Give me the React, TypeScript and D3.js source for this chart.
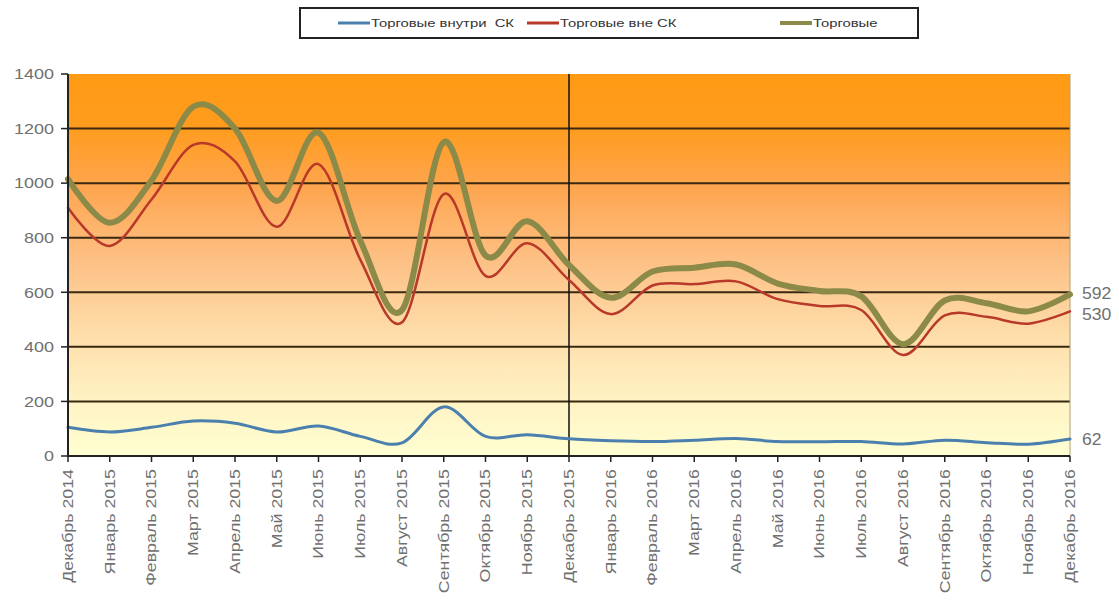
import React from "react";
import * as d3 from "d3";

const months = [
  "Декабрь 2014", "Январь 2015", "Февраль 2015", "Март 2015", "Апрель 2015", "Май 2015",
  "Июнь 2015", "Июль 2015", "Август 2015", "Сентябрь 2015", "Октябрь 2015", "Ноябрь 2015",
  "Декабрь 2015", "Январь 2016", "Февраль 2016", "Март 2016", "Апрель 2016", "Май 2016",
  "Июнь 2016", "Июль 2016", "Август 2016", "Сентябрь 2016", "Октябрь 2016", "Ноябрь 2016",
  "Декабрь 2016",
];

const inside = [105, 88, 105, 128, 120, 88, 110, 72, 48, 180, 72, 78, 63, 56, 53, 58, 64, 53, 52, 53, 44, 58, 49, 43, 62];
const outside = [910, 770, 940, 1140, 1080, 840, 1070, 720, 490, 960, 660, 780, 645, 520, 625, 630, 640, 575, 550, 535, 370, 515, 510, 485, 530];
const total = [1015, 855, 1010, 1280, 1200, 935, 1185, 790, 535, 1150, 735, 860, 700, 580, 676, 690, 702, 632, 605, 585, 410, 570, 560, 530, 592];

const yTicks = [0, 200, 400, 600, 800, 1000, 1200, 1400];
const seriesNames = ["Торговые внутри  СК", "Торговые вне СК", "Торговые"];

const W = 1119;
const H = 605;
const M = { left: 68, right: 1070, top: 74, bottom: 456 };

export default function App() {
  const x = d3.scalePoint<string>().domain(months).range([M.left, M.right]);
  const y = d3.scaleLinear().domain([0, 1400]).range([M.bottom, M.top]);
  const line = d3
    .line<number>()
    .x((_, i) => x(months[i]) as number)
    .y((d) => y(d))
    .curve(d3.curveCardinal.tension(0));

  const series = [
    { name: seriesNames[0], values: inside, color: "#4a7fae", width: 3 },
    { name: seriesNames[1], values: outside, color: "#b8392a", width: 2.5 },
    { name: seriesNames[2], values: total, color: "#8c8a48", width: 6 },
  ];
  const drawOrder = [series[2], series[1], series[0]];
  const legendX = [338, 527, 780];
  const font = "Arial, 'Liberation Sans', sans-serif";
  const textCol = "#707070";
  const decIdx = 12;

  return (
    <svg width={W} height={H} style={{ position: "absolute", left: 0, top: 0, background: "#fff" }}>
      <defs>
        <linearGradient id="bg" x1="0" y1="0" x2="0" y2="1">
          <stop offset="0" stopColor="#ff9a14" />
          <stop offset="0.14" stopColor="#ff9c1e" />
          <stop offset="0.3" stopColor="#fea650" />
          <stop offset="0.5" stopColor="#fdc288" />
          <stop offset="0.7" stopColor="#fee0ad" />
          <stop offset="0.86" stopColor="#fff3c4" />
          <stop offset="1" stopColor="#ffffd2" />
        </linearGradient>
      </defs>
      <rect x={M.left} y={M.top} width={M.right - M.left} height={M.bottom - M.top} fill="url(#bg)" />
      {yTicks.slice(1, -1).map((t) => (
        <line key={t} x1={M.left} x2={M.right} y1={y(t)} y2={y(t)} stroke="#3a2810" strokeWidth={2} />
      ))}
      <line x1={M.right} x2={M.right} y1={M.top} y2={M.bottom} stroke="#b0a070" strokeWidth={1} />
      <line x1={x(months[decIdx])} x2={x(months[decIdx])} y1={M.top} y2={M.bottom} stroke="#111" strokeWidth={1.5} />
      {drawOrder.map((s) => (
        <path key={s.name} d={line(s.values) || ""} fill="none" stroke={s.color} strokeWidth={s.width} strokeLinejoin="round" strokeLinecap="round" />
      ))}
      {/* axes */}
      <line x1={M.left} x2={M.left} y1={M.top} y2={M.bottom + 1} stroke="#222" strokeWidth={2} />
      <line x1={M.left} x2={M.right} y1={M.bottom} y2={M.bottom} stroke="#222" strokeWidth={2} />
      {yTicks.map((t) => (
        <g key={t}>
          <line x1={M.left - 7} x2={M.left} y1={y(t)} y2={y(t)} stroke="#222" strokeWidth={1.5} />
          <text
            transform={`translate(54,${y(t)}) scale(1.2,1)`}
            dy="0.35em"
            textAnchor="end"
            fontFamily={font}
            fontSize={15}
            fill={textCol}
          >
            {t}
          </text>
        </g>
      ))}
      {months.map((m) => {
        const px = x(m) as number;
        return (
          <g key={m}>
            <line x1={px} x2={px} y1={M.bottom} y2={M.bottom + 6} stroke="#222" strokeWidth={1.5} />
            <text
              transform={`translate(${px},${M.bottom + 13}) rotate(-90) scale(1.27,1)`}
              textAnchor="end"
              dy="0.35em"
              fontFamily={font}
              fontSize={14}
              fill={textCol}
            >
              {m}
            </text>
          </g>
        );
      })}
      {/* end labels */}
      {[total, outside, inside].map((vals, i) => (
        <text
          key={i}
          transform={`translate(${M.right + 12},${y(vals[vals.length - 1]) + (i === 0 ? -1 : i === 1 ? 3 : 0)}) scale(1.1,1)`}
          dy="0.35em"
          fontFamily={font}
          fontSize={16}
          fill={textCol}
        >
          {vals[vals.length - 1]}
        </text>
      ))}
      {/* legend */}
      <rect x={300} y={8} width={618} height={30} fill="#fff" stroke="#222" strokeWidth={2} />
      {series.map((s, i) => (
        <g key={s.name}>
          <line x1={legendX[i]} x2={legendX[i] + 32} y1={23} y2={23} stroke={s.color} strokeWidth={i === 2 ? 4 : 3} />
          <text
            transform={`translate(${legendX[i] + 33},23) scale(1.35,1)`}
            dy="0.35em"
            fontFamily={font}
            fontSize={11}
            fill="#333"
            style={{ whiteSpace: "pre" }}
          >
            {s.name}
          </text>
        </g>
      ))}
    </svg>
  );
}
